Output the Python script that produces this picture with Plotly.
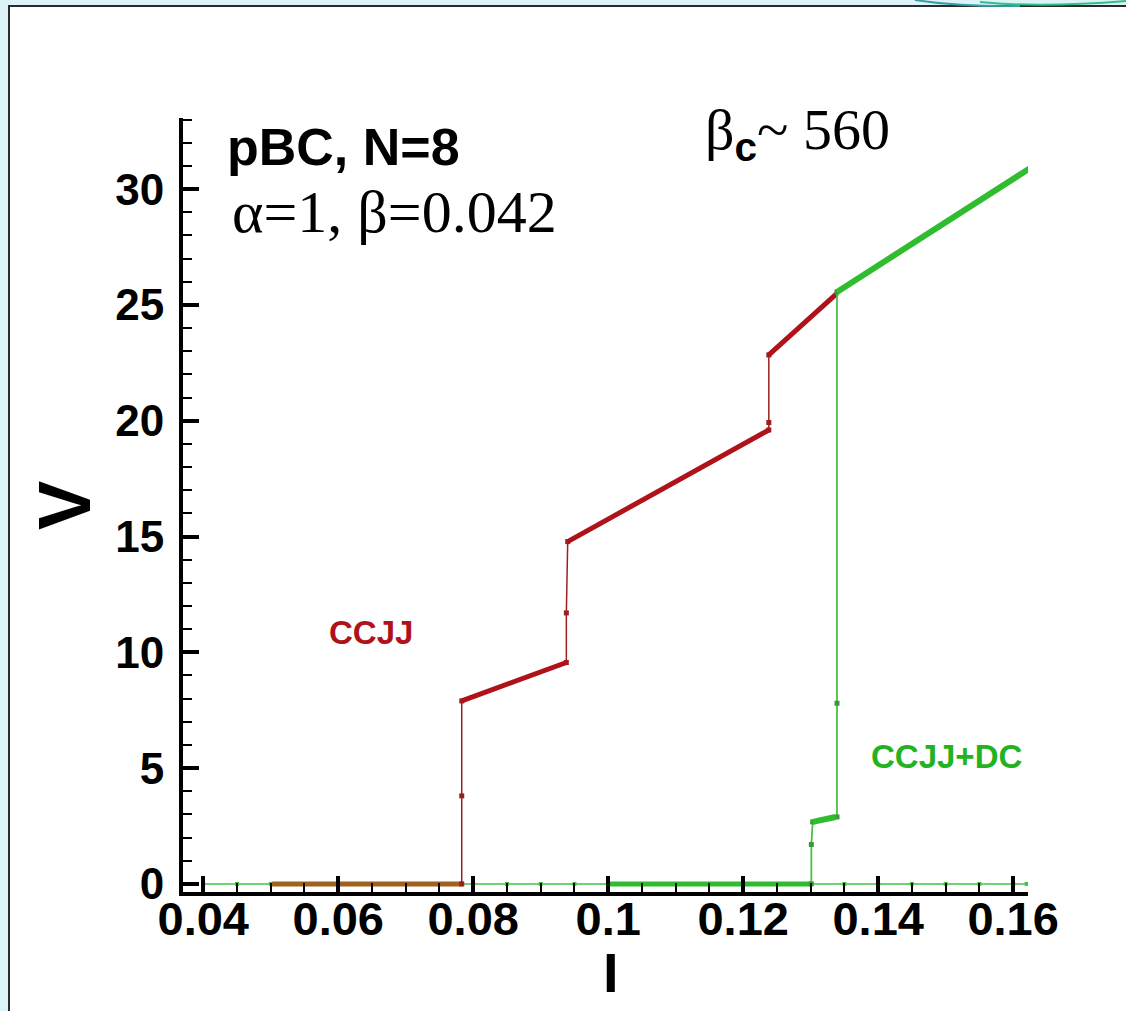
import plotly.graph_objects as go

# ---------------- data ----------------
# thin green reference baseline (V = 0), coarse grid
base_I = [0.04, 0.045, 0.05, 0.055, 0.06, 0.065, 0.07, 0.075, 0.08, 0.085, 0.09,
          0.095, 0.1, 0.105, 0.11, 0.115, 0.12, 0.125, 0.13, 0.135, 0.14, 0.145,
          0.15, 0.155, 0.16, 0.162]
base_V = [0] * len(base_I)

# CCJJ (red) – branches
ccjj_flat_I = [0.0502, 0.0785]
ccjj_flat_V = [0.0, 0.0]
ccjj_jump_I = [[0.0783, 0.0783, 0.0783], [0.0938, 0.0938, 0.0940], [0.1238, 0.1238, 0.1238]]
ccjj_jump_V = [[0.0, 3.8, 7.9], [9.56, 11.7, 14.78], [19.6, 19.92, 22.84]]
ccjj_branch_I = [[0.0783, 0.0938], [0.0940, 0.1238], [0.1238, 0.1339]]
ccjj_branch_V = [[7.9, 9.56], [14.78, 19.6], [22.84, 25.5]]

# CCJJ+DC (green) – branches
dc_flat_I = [0.1, 0.1301]
dc_flat_V = [0.0, 0.0]
dc_jump_I = [[0.1301, 0.1301, 0.1303], [0.1339, 0.1339, 0.1339]]
dc_jump_V = [[0.0, 1.7, 2.68], [2.89, 7.8, 25.56]]
dc_branch_I = [[0.1303, 0.1337], [0.1339, 0.1628]]
dc_branch_V = [[2.68, 2.89], [25.56, 30.96]]

x_tickvals = [0.04, 0.06, 0.08, 0.1, 0.12, 0.14, 0.16]
x_ticktext = ["0.04", "0.06", "0.08", "0.1", "0.12", "0.14", "0.16"]
y_tickvals = [0, 5, 10, 15, 20, 25, 30]
y_ticktext = ["0", "5", "10", "15", "20", "25", "30"]

# ---------------- styles ----------------
RED = "#b0121a"
RED_THIN = "#9a2020"
BROWN = "#a0601f"
GREEN = "#2fbd2f"
GREEN_THIN = "#45c245"
SANS = "Liberation Sans, Arial, sans-serif"
SERIF = "Liberation Serif, Times New Roman, serif"

W, H = 1126, 1011
L, R, T, B = 183, 1028, 118, 892


def px_x(x):
    return (x - L) / (R - L)


def px_y(y):
    return (B - y) / (B - T)


fig = go.Figure()

# thin green baseline
fig.add_trace(go.Scatter(x=base_I, y=base_V, mode="lines+markers",
                         line=dict(color=GREEN_THIN, width=1.5),
                         marker=dict(color=GREEN_THIN, size=4, symbol="square")))
# red flat branch
fig.add_trace(go.Scatter(x=ccjj_flat_I, y=ccjj_flat_V, mode="lines",
                         line=dict(color=BROWN, width=5)))
# red jumps
for xi, yi in zip(ccjj_jump_I, ccjj_jump_V):
    fig.add_trace(go.Scatter(x=xi, y=yi, mode="lines+markers",
                             line=dict(color=RED_THIN, width=1.5),
                             marker=dict(color=RED_THIN, size=5, symbol="square")))
# red branches
for xi, yi in zip(ccjj_branch_I, ccjj_branch_V):
    fig.add_trace(go.Scatter(x=xi, y=yi, mode="lines",
                             line=dict(color=RED, width=5)))
# green flat branch
fig.add_trace(go.Scatter(x=dc_flat_I, y=dc_flat_V, mode="lines",
                         line=dict(color=GREEN, width=5)))
# green jumps
for xi, yi in zip(dc_jump_I, dc_jump_V):
    fig.add_trace(go.Scatter(x=xi, y=yi, mode="lines+markers",
                             line=dict(color=GREEN_THIN, width=1.8),
                             marker=dict(color="#3a9a3a", size=5, symbol="square")))
# green branches
for xi, yi in zip(dc_branch_I, dc_branch_V):
    fig.add_trace(go.Scatter(x=xi, y=yi, mode="lines",
                             line=dict(color=GREEN, width=6)))

axis_common = dict(showgrid=False, zeroline=False, showline=True, linecolor="black",
                   linewidth=4, ticks="inside", tickcolor="black", tickwidth=3.5,
                   ticklen=16)

fig.update_xaxes(range=[0.037, 0.1622], tickvals=x_tickvals, ticktext=x_ticktext,
                 minor=dict(dtick=0.005, tick0=0.04, ticks="inside", ticklen=9,
                            tickwidth=2, tickcolor="black"),
                 tickfont=dict(family=SANS, size=47, color="black", weight="bold"),
                 ticklabelstandoff=-17, **axis_common)
fig.update_yaxes(range=[-0.35, 33.07], tickvals=y_tickvals, ticktext=y_ticktext,
                 minor=dict(dtick=1, tick0=0, ticks="inside", ticklen=9,
                            tickwidth=2, tickcolor="black"),
                 tickfont=dict(family=SANS, size=44, color="black", weight="bold"),
                 ticklabelstandoff=6, **axis_common)

annotations = [
    dict(text="V", x=px_x(65), y=px_y(506), textangle=-90,
         font=dict(family=SANS, size=74, color="black", weight="bold")),
    dict(text="I", x=px_x(611), y=px_y(972),
         font=dict(family=SANS, size=56, color="black", weight="bold")),
    dict(text="pBC, N=8", x=px_x(225), y=px_y(147), xanchor="left",
         font=dict(family=SANS, size=52, color="black", weight="bold")),
    dict(text="α=1, β=0.042", x=px_x(230), y=px_y(212), xanchor="left",
         font=dict(family=SERIF, size=60, color="black")),
    dict(text="β<sub><span style='font-family:Liberation Sans;font-weight:bold'>c</span></sub>~ 560",
         x=px_x(703), y=px_y(134), xanchor="left",
         font=dict(family=SERIF, size=58, color="black")),
    dict(text="CCJJ", x=px_x(327), y=px_y(633), xanchor="left",
         font=dict(family=SANS, size=33, color=RED, weight="bold")),
    dict(text="CCJJ+DC", x=px_x(869), y=px_y(756), xanchor="left",
         font=dict(family=SANS, size=33, color="#22b222", weight="bold")),
]
for a in annotations:
    a.setdefault("xanchor", "center")
    a.setdefault("yanchor", "middle")
    a.update(xref="paper", yref="paper", showarrow=False)

shapes = [
    # white slide panel with dark border
    dict(type="rect", xref="paper", yref="paper", layer="below",
         x0=px_x(9), x1=px_x(1140), y0=px_y(1020), y1=px_y(6),
         fillcolor="white", line=dict(color="#2a2a2a", width=2)),
    # decorative ribbon at the top right
    dict(type="path", xref="paper", yref="paper", layer="above",
         path=f"M {px_x(915)},{px_y(0)} Q {px_x(960)},{px_y(7)} {px_x(1020)},{px_y(6)}",
         line=dict(color="#3a9aa5", width=2)),
    dict(type="path", xref="paper", yref="paper", layer="above",
         path=f"M {px_x(980)},{px_y(2)} Q {px_x(1040)},{px_y(8)} {px_x(1126)},{px_y(1)}",
         line=dict(color="#2fc08a", width=2)),
]

fig.update_layout(width=W, height=H, margin=dict(l=L, r=W - R, t=T, b=H - B),
                  paper_bgcolor="#dcf3f8", plot_bgcolor="rgba(0,0,0,0)",
                  showlegend=False, annotations=annotations, shapes=shapes)

fig.write_html("out.html")
